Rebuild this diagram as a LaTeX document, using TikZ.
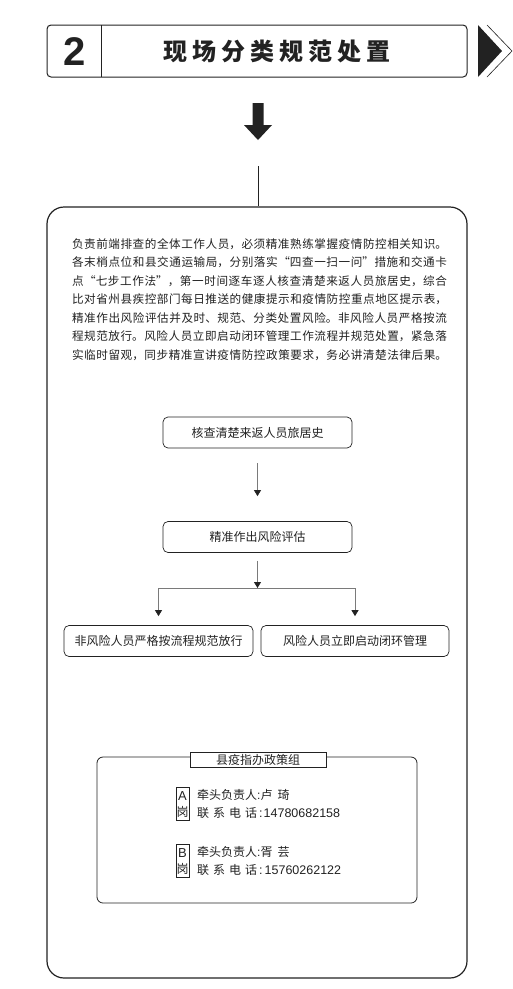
\documentclass[tikz,border=0pt]{standalone}
\usepackage{fontspec}
\setmainfont{Noto Sans CJK SC}
\newfontfamily\latin{Liberation Sans}
\usetikzlibrary{arrows.meta}
\XeTeXlinebreaklocale "zh"
\XeTeXlinebreakskip=0pt plus 3pt minus 0.4pt
\definecolor{ink}{HTML}{222222}
\definecolor{lgray}{HTML}{7A7A7A}
\tikzset{
  paraline/.style={text width=375pt, align=justify, inner sep=0pt, text=ink,
    font=\fontsize{11.6}{14}\selectfont},
  flowbox/.style={draw=ink, line width=0.7pt, rounded corners=5pt, minimum height=31pt,
    inner sep=0pt, text=ink, font=\fontsize{12}{14}\selectfont},
  flowarrow/.style={draw=lgray, line width=0.8pt, -{Triangle[width=7pt,length=6pt,color=ink]}},
  badge/.style={draw=ink, line width=0.7pt, minimum width=13pt, minimum height=33pt, inner sep=0pt},
  info/.style={anchor=west, inner sep=0pt, text=ink, font=\fontsize{12}{14}\selectfont},
}
\begin{document}
\begin{tikzpicture}[x=1pt,y=-1pt]
\useasboundingbox (0,0) rectangle (513,989);
\fill[white] (0,0) rectangle (513,989);

% header
\draw[ink, line width=1pt, rounded corners=4pt] (47,25) rectangle (467,77);
\draw[ink, line width=1pt] (101,25) -- (101,77);
\node[text=ink, font=\latin\bfseries\fontsize{40}{40}\selectfont] (num) at (75,52) {2};
\node[text=ink, font=\bfseries\fontsize{24}{28}\selectfont, inner sep=0pt] (title) at (277,51)
  {\makebox[227pt][s]{现\hfill 场\hfill 分\hfill 类\hfill 规\hfill 范\hfill 处\hfill 置}};
\fill[ink] (478,25) -- (502,51) -- (478,77) -- cycle;
\draw[ink, line width=0.6pt] (487,25) -- (512,51) -- (487,77);

% big down arrow
\fill[ink] (252.5,103) -- (263.5,103) -- (263.5,125) -- (272,125) -- (258,140)
  -- (244,125) -- (252.5,125) -- cycle;

% main box
\node[draw=ink, line width=1.2pt, rounded corners=17pt, minimum width=420pt,
  minimum height=771pt, inner sep=0pt] (main) at (257,592.5) {};
\coordinate (a0) at (258,166);
\draw[ink, line width=0.8pt] (a0) -- (a0 |- main.north);

% paragraph
\node[paraline] (p1) at (259.5,244) {\parfillskip=0pt 负责前端排查的全体工作人员，必须精准熟练掌握疫情防控相关知识。\par};
\node[paraline] (p2) at (259.5,262.5) {\parfillskip=0pt 各末梢点位和县交通运输局，分别落实“四查一扫一问”措施和交通卡\par};
\node[paraline] (p3) at (259.5,281) {\parfillskip=0pt 点“七步工作法”，第一时间逐车逐人核查清楚来返人员旅居史，综合\par};
\node[paraline] (p4) at (259.5,299.5) {\parfillskip=0pt 比对省州县疾控部门每日推送的健康提示和疫情防控重点地区提示表，\par};
\node[paraline] (p5) at (259.5,318) {\parfillskip=0pt 精准作出风险评估并及时、规范、分类处置风险。非风险人员严格按流\par};
\node[paraline] (p6) at (259.5,336.5) {\parfillskip=0pt 程规范放行。风险人员立即启动闭环管理工作流程并规范处置，紧急落\par};
\node[paraline] (p7) at (259.5,355) {\parfillskip=0pt 实临时留观，同步精准宣讲疫情防控政策要求，务必讲清楚法律后果。\par};

% flowchart
\node[flowbox, minimum width=189pt] (b1) at (257.5,432.5) {核查清楚来返人员旅居史};
\node[flowbox, minimum width=189pt] (b2) at (257.5,537) {精准作出风险评估};
\node[flowbox, minimum width=189pt] (b3) at (158.5,641) {非风险人员严格按流程规范放行};
\node[flowbox, minimum width=188pt] (b4) at (355,641) {风险人员立即启动闭环管理};
\draw[flowarrow] ([yshift=-15pt]b1.south) -- ([yshift=25pt]b2.north);
\coordinate (split) at (257.5,588);
\draw[flowarrow] ([yshift=-8pt]b2.south) -- (split);
\draw[draw=lgray, line width=0.8pt] (b3.north |- split) -- (b4.north |- split);
\draw[flowarrow] (b3.north |- split) -- ([yshift=9pt]b3.north);
\draw[flowarrow] (b4.north |- split) -- ([yshift=9pt]b4.north);

% group box
\node[draw=ink, line width=0.8pt, rounded corners=6pt, minimum width=320pt,
  minimum height=146pt, inner sep=0pt] (grp) at (257,830) {};
\node[draw=ink, fill=white, line width=0.8pt, minimum width=136pt, minimum height=15pt,
  inner sep=0pt, text=ink, font=\fontsize{12}{14}\selectfont] (tab) at (258,759.5) {县疫指办政策组};

\node[badge] (ba) at (182.5,803.5) {};
\node[text=ink, inner sep=0pt, font=\latin\fontsize{13}{14}\selectfont] (baA) at (182.5,796.5) {A};
\node[text=ink, inner sep=0pt, font=\fontsize{12}{13}\selectfont] (baG) at (182.5,811.5) {岗};
\node[info] (a1) at (197,795) {牵头负责人{\latin :}卢\hspace{5pt}琦};
\node[info] (a2) at (197,813) {联\hspace{4pt}系\hspace{4pt}电\hspace{4pt}话\hspace{2pt}{\latin\fontsize{12.5}{14}\selectfont :\hspace{1pt}14780682158}};

\node[badge] (bb) at (182.5,860.5) {};
\node[text=ink, inner sep=0pt, font=\latin\fontsize{13}{14}\selectfont] (bbB) at (182.5,853.5) {B};
\node[text=ink, inner sep=0pt, font=\fontsize{12}{13}\selectfont] (bbG) at (182.5,868.5) {岗};
\node[info] (b1t) at (197,852) {牵头负责人{\latin :}胥\hspace{5pt}芸};
\node[info] (b2t) at (197,870) {联\hspace{4pt}系\hspace{4pt}电\hspace{4pt}话\hspace{2pt}{\latin\fontsize{12.5}{14}\selectfont :\hspace{2pt}15760262122}};
\end{tikzpicture}
\end{document}
